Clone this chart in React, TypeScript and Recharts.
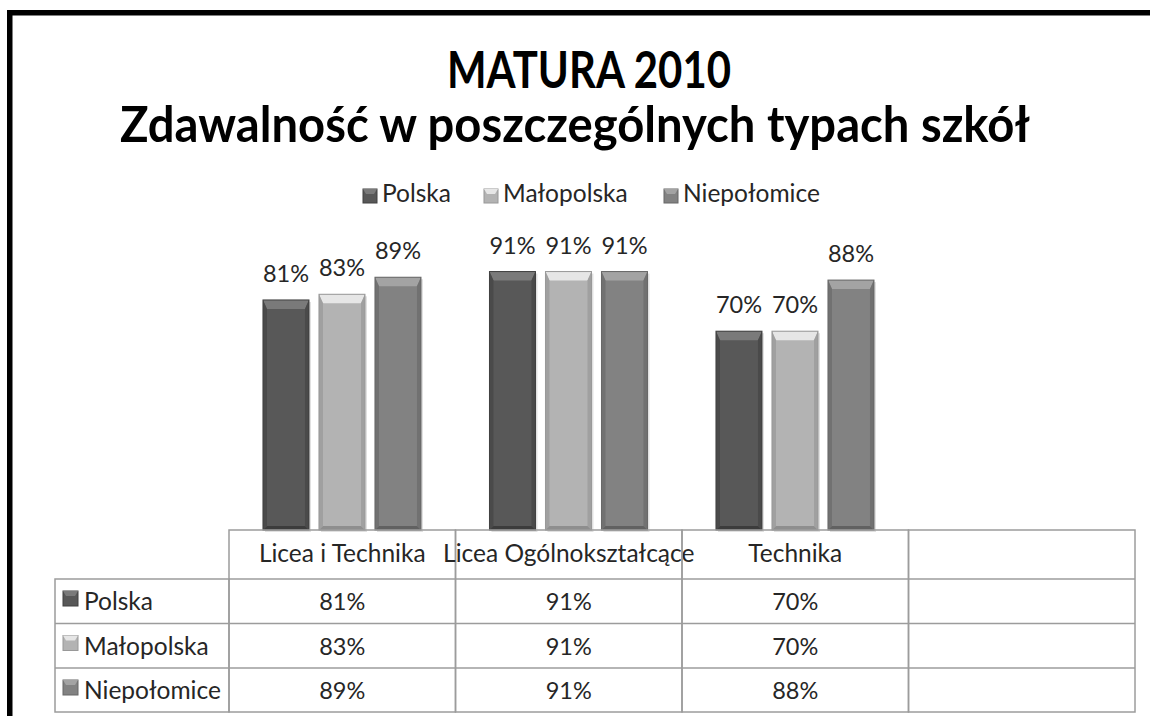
import React from "react";
import { BarChart, Bar, XAxis, YAxis, LabelList } from "recharts";

const categories = ["Licea i Technika", "Licea Ogólnokształcące", "Technika", ""];
const polska = [81, 91, 70, null];
const malopolska = [83, 91, 70, null];
const niepolomice = [89, 91, 88, null];
const seriesNames = ["Polska", "Małopolska", "Niepołomice"];
const seriesKeys = ["polska", "malopolska", "niepolomice"];
const seriesValues = [polska, malopolska, niepolomice];

const data = categories.map((name, i) => ({
  name,
  polska: polska[i],
  malopolska: malopolska[i],
  niepolomice: niepolomice[i],
}));

type Tone = { body: string; top: string; side: string; bottom: string; edge: string };

const tones: Tone[] = [
  { body: "#585858", top: "#7a7a7a", side: "#4a4a4a", bottom: "#3c3c3c", edge: "#404040" },
  { body: "#b3b3b3", top: "#e6e6e6", side: "#a0a0a0", bottom: "#8e8e8e", edge: "#989898" },
  { body: "#828282", top: "#a3a3a3", side: "#717171", bottom: "#616161", edge: "#676767" },
];

const FONT = "Lato, 'Open Sans', sans-serif";
const TEXT = "#262626";
const GRID = "#9c9c9c";

const fmt = (v: any) => (v === null || v === undefined ? "" : `${v}%`);

// bar with the office-style bevel
const BevelBar = (props: any) => {
  const { x, y, width: w, height: h, tone } = props;
  if (!h || h <= 0) return null;
  const t = Math.min(9, h / 2);
  const s = 4;
  const b = Math.min(4, h / 4);
  return (
    <g>
      <rect x={x + 2} y={y + 2} width={w} height={h} fill="rgba(0,0,0,0.12)" />
      <rect x={x} y={y} width={w} height={h} fill={tone.body} />
      <polygon points={`${x},${y} ${x + w},${y} ${x + w - s},${y + t} ${x + s},${y + t}`} fill={tone.top} />
      <polygon points={`${x},${y} ${x + s},${y + t} ${x + s},${y + h - b} ${x},${y + h}`} fill={tone.side} />
      <polygon points={`${x + w},${y} ${x + w},${y + h} ${x + w - s},${y + h - b} ${x + w - s},${y + t}`} fill={tone.side} />
      <polygon points={`${x},${y + h} ${x + s},${y + h - b} ${x + w - s},${y + h - b} ${x + w},${y + h}`} fill={tone.bottom} />
      <rect x={x} y={y} width={w} height={h} fill="none" stroke={tone.edge} strokeWidth={1} />
    </g>
  );
};

const Key = ({ x, y, tone, size = 14 }: { x: number; y: number; tone: Tone; size?: number }) => (
  <g>
    <rect x={x} y={y} width={size} height={size} fill={tone.body} stroke={tone.edge} strokeWidth={1} />
    <polygon points={`${x},${y} ${x + size},${y} ${x + size - 3},${y + 5} ${x + 3},${y + 5}`} fill={tone.top} />
  </g>
);

// rows of the data table, header row height then value rows
const rowTops = [0, 49, 93.5, 138, 182];

const TableColumn = (props: any) => {
  const { x, y, payload } = props;
  const index = props.index ?? payload.index ?? 0;
  const half = payload.offset || 113.25;
  const left = x - half;
  const w = half * 2;
  return (
    <g>
      <rect x={left} y={y + rowTops[0]} width={w} height={rowTops[4]} fill="none" stroke={GRID} strokeWidth={1.5} />
      {rowTops.slice(1, 4).map((t) => (
        <line key={t} x1={left} x2={left + w} y1={y + t} y2={y + t} stroke={GRID} strokeWidth={1.5} />
      ))}
      <text x={x} y={y + 32} textAnchor="middle" fontFamily={FONT} fontSize={24.5} fill={TEXT}>
        {payload.value}
      </text>
      {seriesValues.map((vals, r) => (
        <text key={r} x={x} y={y + rowTops[r + 1] + 31} textAnchor="middle" fontFamily={FONT} fontSize={23.5} fill={TEXT}>
          {fmt(vals[index])}
        </text>
      ))}
    </g>
  );
};

const legendItems = [363, 484, 664];

export default function App() {
  return (
    <div style={{ position: "absolute", left: 0, top: 0, width: 1150, height: 716, background: "#fff" }}>
      <BarChart
        width={1150}
        height={716}
        data={data}
        margin={{ top: 246, right: 15, left: 229, bottom: 0 }}
        barCategoryGap="15%"
        barGap={10}
      >
        <XAxis
          dataKey="name"
          height={186}
          axisLine={false}
          tickLine={false}
          tickSize={0}
          tickMargin={0}
          interval={0}
          tick={<TableColumn />}
        />
        <YAxis hide domain={[0, 100]} />
        {seriesKeys.map((k, i) => (
          <Bar
            key={k}
            dataKey={k}
            name={seriesNames[i]}
            isAnimationActive={false}
            shape={(p: any) => <BevelBar {...p} tone={tones[i]} />}
          >
            <LabelList
              dataKey={k}
              position="top"
              offset={18}
              formatter={fmt}
              style={{ fontFamily: FONT, fontSize: 23.5, fill: TEXT }}
            />
          </Bar>
        ))}
      </BarChart>
      <svg
        width={1150}
        height={716}
        style={{ position: "absolute", left: 0, top: 0, pointerEvents: "none" }}
      >
        <rect x={7} y={10} width={1143} height={5.5} fill="#000" />
        <rect x={7} y={10} width={5.5} height={706} fill="#000" />
        <text x={447} y={88} fontFamily={FONT} fontWeight={700} fontSize={51} fill="#000"
          textLength={284} lengthAdjust="spacingAndGlyphs">
          MATURA 2010
        </text>
        <text x={120} y={142} fontFamily={FONT} fontWeight={700} fontSize={49} fill="#000"
          textLength={910} lengthAdjust="spacingAndGlyphs">
          Zdawalność w poszczególnych typach szkół
        </text>
        {seriesNames.map((n, i) => (
          <g key={n}>
            <Key x={legendItems[i]} y={189} tone={tones[i]} />
            <text x={legendItems[i] + 19} y={202} fontFamily={FONT} fontSize={24.5} fill={TEXT}>
              {n}
            </text>
          </g>
        ))}
        {/* row header column of the data table */}
        <rect x={55} y={579} width={174} height={133} fill="none" stroke={GRID} strokeWidth={1.5} />
        <line x1={55} x2={229} y1={623.5} y2={623.5} stroke={GRID} strokeWidth={1.5} />
        <line x1={55} x2={229} y1={668} y2={668} stroke={GRID} strokeWidth={1.5} />
        {seriesNames.map((n, i) => (
          <g key={n}>
            <Key x={63} y={[591, 635.5, 680][i]} tone={tones[i]} size={15} />
            <text x={84} y={[610, 654.5, 699][i]} fontFamily={FONT} fontSize={24.5} fill={TEXT}>
              {n}
            </text>
          </g>
        ))}
      </svg>
    </div>
  );
}
